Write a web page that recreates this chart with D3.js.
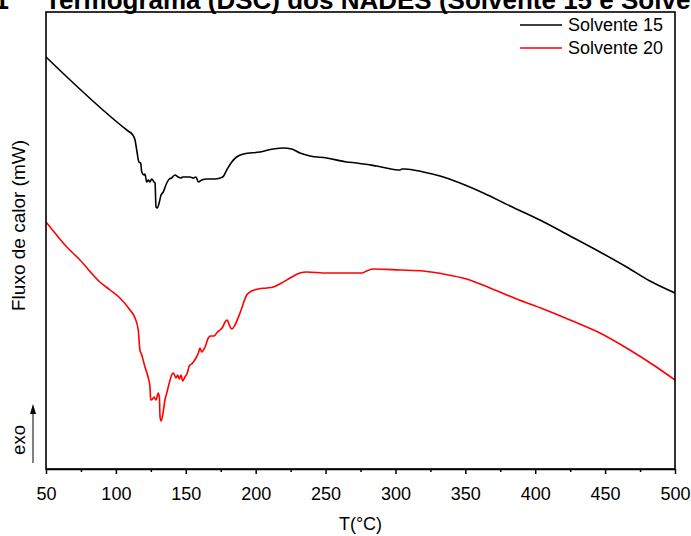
<!DOCTYPE html>
<html>
<head>
<meta charset="utf-8">
<script src="https://cdn.jsdelivr.net/npm/d3@7/dist/d3.min.js"></script>
<style>
  html, body { margin: 0; padding: 0; background: #fff; }
  svg { display: block; font-family: "Liberation Sans", Arial, sans-serif; }
</style>
</head>
<body>
<svg id="chart" width="691" height="536"></svg>
<script>
// ---- data (temperature in °C, heat flow in arbitrary mW units) ----
const titleText = "Termograma (DSC) dos NADES (Solvente 15 e Solvente 20)";
const seriesNames = ["Solvente 15", "Solvente 20"];
const seriesColors = ["#000000", "#ff0000"];
const xTicks = [50, 100, 150, 200, 250, 300, 350, 400, 450, 500];
const xMinorTicks = [75, 125, 175, 225, 275, 325, 375, 425, 475];

const tempS15 = [50, 108.7, 111.5, 113.7, 114.9, 116.5, 117.7, 118.5, 120.1, 120.8, 122.0, 123.2, 124.4, 125.6, 127.3, 128.0, 128.7, 129.6, 131.1, 132.3, 133.9, 136.4, 138.2, 139.9, 142.3, 144.6, 146.4, 147.8, 150.7, 153.0, 155.4, 157.3, 159.0, 161.4, 165.0, 170.9, 176.4, 179.3, 182.9, 186.4, 191.2, 203.1, 212.6, 219.8, 225.8, 231.7, 238.9, 250.8, 265.1, 272.3, 286.6, 303.3, 304.5, 306.8, 319.9, 331.9, 346.2, 362.9, 382.0, 403.4, 424.9, 446.3, 465.4, 482.1, 500];
const flowS15 = [4.12, 3.38, 3.35, 3.29, 3.19, 3.07, 3.06, 2.97, 2.94, 2.95, 2.87, 2.89, 2.87, 2.90, 2.87, 2.86, 2.62, 2.61, 2.67, 2.74, 2.77, 2.86, 2.90, 2.91, 2.94, 2.92, 2.91, 2.92, 2.92, 2.92, 2.91, 2.92, 2.87, 2.89, 2.90, 2.90, 2.92, 2.99, 3.07, 3.12, 3.15, 3.17, 3.20, 3.21, 3.20, 3.16, 3.13, 3.11, 3.07, 3.06, 3.03, 2.99, 3.00, 3.00, 2.97, 2.93, 2.86, 2.76, 2.63, 2.49, 2.33, 2.17, 2.02, 1.88, 1.76];

const tempS20 = [50, 56.4, 63.6, 74.3, 88.6, 95.8, 102.9, 110.1, 113.7, 116.0, 117.2, 118.5, 120.8, 123.2, 124.4, 124.9, 126.3, 127.3, 128.7, 130.3, 131.1, 131.6, 132.3, 133.5, 135.1, 136.4, 138.2, 139.9, 141.1, 143.0, 144.2, 145.4, 146.6, 147.8, 149.4, 151.1, 152.5, 154.9, 157.3, 159.0, 160.2, 161.4, 163.8, 166.1, 167.8, 170.2, 172.6, 174.5, 176.4, 178.1, 179.7, 181.1, 182.9, 185.2, 188.8, 193.6, 197.2, 201.9, 207.9, 212.6, 218.6, 224.6, 231.7, 236.5, 250.8, 267.5, 275.9, 279.4, 284.2, 303.3, 319.9, 334.2, 350.9, 367.6, 386.7, 405.8, 424.9, 446.3, 467.7, 485.6, 500];
const flowS20 = [2.47, 2.36, 2.24, 2.09, 1.87, 1.79, 1.71, 1.59, 1.51, 1.39, 1.19, 1.14, 1.02, 0.91, 0.82, 0.69, 0.70, 0.72, 0.69, 0.76, 0.72, 0.52, 0.48, 0.54, 0.69, 0.76, 0.86, 0.94, 0.96, 0.91, 0.94, 0.90, 0.94, 0.88, 0.92, 0.96, 1.03, 1.06, 1.11, 1.16, 1.21, 1.17, 1.22, 1.31, 1.33, 1.33, 1.37, 1.39, 1.42, 1.47, 1.49, 1.44, 1.40, 1.44, 1.56, 1.74, 1.78, 1.80, 1.81, 1.82, 1.86, 1.91, 1.96, 1.97, 1.96, 1.96, 1.96, 1.98, 2.00, 1.99, 1.98, 1.95, 1.90, 1.81, 1.70, 1.60, 1.49, 1.36, 1.19, 1.03, 0.89];

// ---- layout ----
const svg = d3.select("#chart");
const plot = { left: 46, right: 675, top: 12, bottom: 469 };

const x = d3.scaleLinear().domain([50, 500]).range([plot.left, plot.right]);
const y = d3.scaleLinear().domain([0, 4.57]).range([plot.bottom, plot.top]);

// title (clipped at top in reference)
svg.append("text")
  .attr("x", 9).attr("y", 9)
  .attr("text-anchor", "end")
  .attr("font-size", 26).attr("font-weight", "bold")
  .text("Figura 1");
svg.append("text")
  .attr("x", 45).attr("y", 9)
  .attr("font-size", 26).attr("font-weight", "bold")
  .text(titleText);

// lines
const series = [
  { name: seriesNames[0], color: seriesColors[0], data: tempS15.map((t, i) => [t, flowS15[i]]) },
  { name: seriesNames[1], color: seriesColors[1], data: tempS20.map((t, i) => [t, flowS20[i]]) }
];
const line = d3.line().x(d => x(d[0])).y(d => y(d[1])).curve(d3.curveMonotoneX);

svg.append("defs").append("clipPath").attr("id", "clip")
  .append("rect").attr("x", plot.left).attr("y", plot.top)
  .attr("width", plot.right - plot.left).attr("height", plot.bottom - plot.top);

svg.append("g").attr("clip-path", "url(#clip)")
  .selectAll("path").data(series).join("path")
  .attr("d", d => line(d.data))
  .attr("fill", "none")
  .attr("stroke", d => d.color)
  .attr("stroke-width", 1.6)
  .attr("stroke-linejoin", "round");

// frame
svg.append("rect")
  .attr("x", plot.left).attr("y", plot.top)
  .attr("width", plot.right - plot.left).attr("height", plot.bottom - plot.top)
  .attr("fill", "none").attr("stroke", "#000").attr("stroke-width", 1.6);

// x axis
const xAxis = svg.append("g").attr("transform", `translate(0,${plot.bottom})`)
  .call(d3.axisBottom(x).tickValues(xTicks).tickSize(5).tickSizeOuter(0).tickPadding(13).tickFormat(d3.format("d")));
xAxis.select(".domain").attr("stroke-width", 1.6);
xAxis.selectAll(".tick line").attr("stroke-width", 1.5);
xAxis.selectAll(".tick text").attr("font-size", 18).attr("font-family", "Liberation Sans, Arial, sans-serif").attr("fill", "#000");

const xMinor = svg.append("g").attr("transform", `translate(0,${plot.bottom})`)
  .call(d3.axisBottom(x).tickValues(xMinorTicks).tickSize(3).tickSizeOuter(0).tickFormat(""));
xMinor.select(".domain").remove();
xMinor.selectAll(".tick line").attr("stroke-width", 1.5);

// axis titles
svg.append("text")
  .attr("x", (plot.left + plot.right) / 2).attr("y", 530)
  .attr("text-anchor", "middle").attr("font-size", 18)
  .text("T(°C)");
svg.append("text")
  .attr("transform", `translate(25,${(plot.top + plot.bottom) / 2 - 15}) rotate(-90)`)
  .attr("text-anchor", "middle").attr("font-size", 19)
  .text("Fluxo de calor (mW)");

// exo arrow
svg.append("text")
  .attr("transform", `translate(25,440) rotate(-90)`)
  .attr("text-anchor", "middle").attr("font-size", 18.5)
  .text("exo");
svg.append("line")
  .attr("x1", 33).attr("x2", 33).attr("y1", 463).attr("y2", 412)
  .attr("stroke", "#000").attr("stroke-width", 1);
svg.append("path")
  .attr("d", "M33,404 L30,414 L36,414 Z").attr("fill", "#000");

// legend
const legend = svg.append("g");
series.forEach((s, i) => {
  const ly = 25 + i * 23;
  legend.append("line").attr("x1", 520).attr("x2", 562).attr("y1", ly).attr("y2", ly)
    .attr("stroke", s.color).attr("stroke-width", 1.6);
  legend.append("text").attr("x", 568).attr("y", ly + 6).attr("font-size", 18).text(s.name);
});
</script>
</body>
</html>
